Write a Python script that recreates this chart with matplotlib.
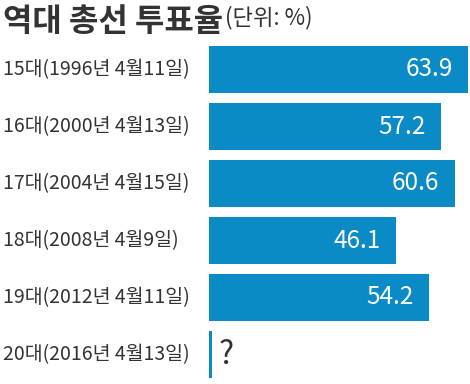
import matplotlib
matplotlib.use("Agg")
import matplotlib.pyplot as plt

plt.rcParams["font.family"] = ["Noto Sans CJK KR", "DejaVu Sans"]

# 역대 총선 투표율 (단위: %)
labels = ["15대(1996년 4월11일)", "16대(2000년 4월13일)", "17대(2004년 4월15일)",
          "18대(2008년 4월9일)", "19대(2012년 4월11일)", "20대(2016년 4월13일)"]
turnout = [63.9, 57.2, 60.6, 46.1, 54.2, None]
value_text = ["63.9", "57.2", "60.6", "46.1", "54.2", "?"]
PENDING_WIDTH = 0.75  # 20대는 미정 -> 가는 막대만

BLUE = "#0A8BC6"
DARK = "#333333"

fig = plt.figure(figsize=(4.7, 3.84), dpi=100)
ax = fig.add_axes([209 / 470, 1 / 384, 261 / 470, 342 / 384])

for i, (v, t) in enumerate(zip(turnout, value_text)):
    if v is None:
        ax.barh(i, PENDING_WIDTH, height=0.84, color=BLUE)
        ax.annotate(t, (PENDING_WIDTH, i), xytext=(5, 0), textcoords="offset points",
                    ha="left", va="center", fontsize=23, color=DARK)
    else:
        ax.barh(i, v, height=0.84, color=BLUE)
        ax.annotate(t, (v, i), xytext=(-11, 0), textcoords="offset points",
                    ha="right", va="center", fontsize=17.5, color="white")

ax.set_xlim(0, 64.4)
ax.set_ylim(5.5, -0.5)
ax.axis("off")

for i, lab in enumerate(labels):
    ax.annotate(lab, (0, i), xycoords=("figure fraction", "data"), xytext=(2, 0),
                textcoords="offset points", ha="left", va="center",
                fontsize=14, color=DARK)

fig.text(3 / 470, 1 - 31 / 384, "역대 총선 투표율", fontsize=23, fontweight="bold",
         color=DARK, ha="left", va="baseline")
fig.text(225 / 470, 1 - 6 / 384, "(단위: %)", fontsize=16, color=DARK,
         ha="left", va="top")

fig.savefig("out.png", dpi=100)
